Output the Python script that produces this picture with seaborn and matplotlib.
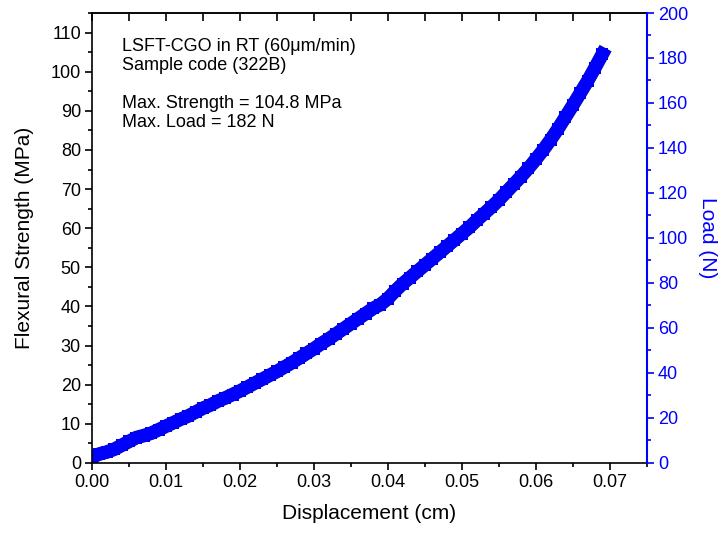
import numpy as np
import pandas as pd
import matplotlib
matplotlib.use("Agg")
import matplotlib.pyplot as plt
import seaborn as sns
from matplotlib.ticker import MultipleLocator, FormatStrFormatter

# Displacement (cm) and flexural strength (MPa)
displacement = [
    0.000, 0.001, 0.002, 0.003, 0.004, 0.005, 0.006, 0.007, 0.008, 0.009,
    0.010, 0.011, 0.012, 0.013, 0.014, 0.015, 0.016, 0.017, 0.018, 0.019,
    0.020, 0.021, 0.022, 0.023, 0.024, 0.025, 0.026, 0.027, 0.028, 0.029,
    0.030, 0.031, 0.032, 0.033, 0.034, 0.035, 0.036, 0.037, 0.038, 0.039,
    0.040, 0.041, 0.042, 0.043, 0.044, 0.045, 0.046, 0.047, 0.048, 0.049,
    0.050, 0.051, 0.052, 0.053, 0.054, 0.055, 0.056, 0.057, 0.058, 0.059,
    0.060, 0.061, 0.062, 0.063, 0.064, 0.065, 0.066, 0.067, 0.068, 0.069,
]
strength = [
    1.5, 2.3, 2.8, 3.5, 4.5, 5.5, 6.5, 7.0, 7.6, 8.5,
    9.4, 10.3, 11.2, 12.0, 13.0, 14.0, 14.8, 15.8, 16.6, 17.5,
    18.4, 19.4, 20.4, 21.4, 22.4, 23.4, 24.5, 25.6, 26.8, 28.0,
    29.2, 30.5, 31.7, 33.0, 34.3, 35.6, 36.9, 38.2, 39.5, 40.5,
    42.0, 44.0, 45.8, 47.4, 49.0, 50.6, 52.2, 53.8, 55.4, 57.0,
    58.6, 60.2, 62.0, 63.7, 65.4, 67.2, 69.2, 71.2, 73.2, 75.3,
    77.6, 80.0, 82.6, 85.4, 88.4, 91.4, 94.5, 97.6, 101.0, 104.5,
]

df = pd.DataFrame({"displacement": displacement, "strength": strength})

sns.set_style("ticks")
plt.rcParams["font.family"] = ["Liberation Sans", "DejaVu Sans"]
plt.rcParams["text.color"] = "black"
plt.rcParams["axes.labelcolor"] = "black"
plt.rcParams["xtick.color"] = "black"
plt.rcParams["ytick.color"] = "black"

fig = plt.figure(figsize=(7.21, 5.35), dpi=100)
ax = fig.add_axes([0.1276, 0.1346, 0.7694, 0.8411])

# thin dark rim under the marker band
sns.lineplot(data=df, x="displacement", y="strength", ax=ax, color="#20205a",
             linewidth=9.8, solid_capstyle="projecting")
sns.lineplot(data=df, x="displacement", y="strength", ax=ax, color="#0000ff",
             linewidth=9.2, marker="s", markersize=8.6, markeredgewidth=0,
             solid_capstyle="projecting")

ax.set_xlim(0, 0.075)
ax.set_ylim(0, 115)
ax.xaxis.set_major_locator(MultipleLocator(0.01))
ax.xaxis.set_minor_locator(MultipleLocator(0.005))
ax.yaxis.set_major_locator(MultipleLocator(10))
ax.yaxis.set_minor_locator(MultipleLocator(5))
ax.xaxis.set_major_formatter(FormatStrFormatter("%.2f"))

ax.tick_params(axis="both", which="major", direction="out", length=5, width=1.2,
               labelsize=13, top=False, right=False, pad=3)
ax.tick_params(axis="both", which="minor", direction="out", length=3, width=1.2,
               top=False, right=False)

for s in ["left", "bottom", "top"]:
    ax.spines[s].set_linewidth(1.2)
    ax.spines[s].set_color("black")
ax.spines["right"].set_visible(False)

# inward ticks along the top spine
top = ax.secondary_xaxis("top")
top.xaxis.set_major_locator(MultipleLocator(0.01))
top.xaxis.set_minor_locator(MultipleLocator(0.005))
top.tick_params(which="major", direction="in", length=6, width=1.2, labeltop=False)
top.tick_params(which="minor", direction="in", length=6, width=1.2)
top.spines["top"].set_linewidth(1.2)

ax.set_xlabel("Displacement (cm)", fontsize=15, labelpad=9)
ax.set_ylabel("Flexural Strength (MPa)", fontsize=15, labelpad=12)

# right axis: load in N
ax2 = ax.twinx()
ax2.set_ylim(0, 200)
ax2.yaxis.set_major_locator(MultipleLocator(20))
ax2.yaxis.set_minor_locator(MultipleLocator(10))
ax2.tick_params(axis="y", which="major", direction="out", length=5, width=1.2,
                colors="#0000ff", labelsize=13, labelcolor="#0000ff", pad=3)
ax2.tick_params(axis="y", which="minor", direction="out", length=3, width=1.2,
                colors="#0000ff")
ax2.spines["right"].set_color("#0000ff")
ax2.spines["right"].set_linewidth(1.5)
for s in ["left", "bottom", "top"]:
    ax2.spines[s].set_visible(False)
ax2.set_ylabel("Load (N)", fontsize=15, color="#0000ff", rotation=-90, labelpad=21)

info = ("LSFT-CGO in RT (60\u03bcm/min)\nSample code (322B)\n\n"
        "Max. Strength = 104.8 MPa\nMax. Load = 182 N")
ax.text(0.054, 0.945, info, transform=ax.transAxes, fontsize=13,
        va="top", ha="left", linespacing=1.15)

fig.savefig("out.png", dpi=100)
